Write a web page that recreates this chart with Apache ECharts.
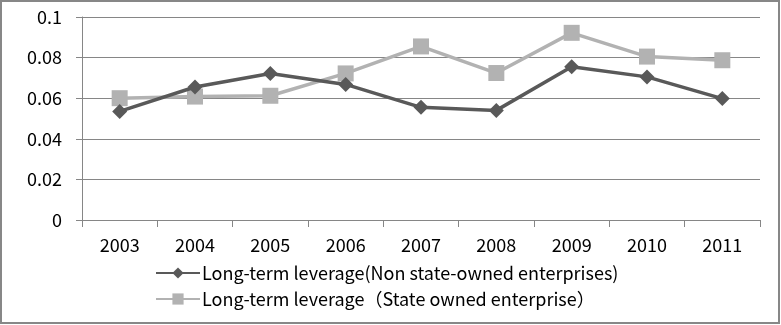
<!DOCTYPE html>
<html>
<head>
<meta charset="utf-8">
<script src="https://cdn.jsdelivr.net/npm/echarts@6/dist/echarts.min.js"></script>
<style>
html,body{margin:0;padding:0;background:#fff;}
#chart{width:781px;height:325px;}
</style>
</head>
<body>
<div id="chart"></div>
<script>
const years = ['2003','2004','2005','2006','2007','2008','2009','2010','2011'];
const nonStateName = 'Long-term leverage(Non state-owned enterprises)';
const stateName = 'Long-term leverage（State owned enterprise）';
const nonStateValues = [0.0535, 0.0655, 0.0722, 0.0668, 0.0555, 0.0540, 0.0755, 0.0705, 0.0598];
const stateValues = [0.0600, 0.0608, 0.0612, 0.0722, 0.0855, 0.0724, 0.0922, 0.0805, 0.0787];
const yTicks = [0, 0.02, 0.04, 0.06, 0.08, 0.1];

const FONT = '"Noto Sans CJK SC", "Noto Sans", sans-serif';
const chart = echarts.init(document.getElementById('chart'), null, {renderer: 'canvas'});
chart.setOption({
  animation: false,
  backgroundColor: '#ffffff',
  graphic: [{
    type: 'rect',
    shape: {x: 1, y: 1, width: 778, height: 322},
    style: {fill: 'none', stroke: '#878787', lineWidth: 2},
    silent: true
  }],
  grid: {left: 82, right: 21, top: 17, bottom: 105, containLabel: false},
  legend: {
    orient: 'vertical',
    left: 150,
    top: 259,
    itemWidth: 44,
    itemHeight: 14,
    itemGap: 8,
    textStyle: {fontFamily: FONT, fontSize: 18, color: '#000', padding: [0, 0, 0, -3]},
    data: [nonStateName, stateName]
  },
  xAxis: {
    type: 'category',
    data: years,
    boundaryGap: true,
    axisLine: {lineStyle: {color: '#868686', width: 1}},
    axisTick: {show: true, length: 7, lineStyle: {color: '#868686'}},
    axisLabel: {fontFamily: FONT, fontSize: 18, color: '#000', margin: 16}
  },
  yAxis: {
    type: 'value',
    min: 0,
    max: 0.1,
    interval: 0.02,
    axisLine: {show: true, lineStyle: {color: '#868686', width: 1}},
    axisTick: {show: true, length: 6, lineStyle: {color: '#868686'}},
    splitLine: {show: true, lineStyle: {color: '#868686', width: 1}},
    axisLabel: {
      fontFamily: FONT, fontSize: 18, color: '#000', margin: 20,
      formatter: function (v) {
        for (const t of yTicks) { if (Math.abs(t - v) < 1e-9) return String(t); }
        return String(v);
      }
    }
  },
  series: [
    {
      name: nonStateName,
      type: 'line',
      data: nonStateValues,
      symbol: 'diamond',
      symbolSize: 15,
      itemStyle: {color: '#595959'},
      lineStyle: {color: '#595959', width: 3.5},
      z: 3
    },
    {
      name: stateName,
      type: 'line',
      data: stateValues,
      symbol: 'rect',
      symbolSize: 16,
      itemStyle: {color: '#b2b2b2'},
      lineStyle: {color: '#b2b2b2', width: 3.5},
      z: 2
    }
  ]
});
</script>
</body>
</html>
